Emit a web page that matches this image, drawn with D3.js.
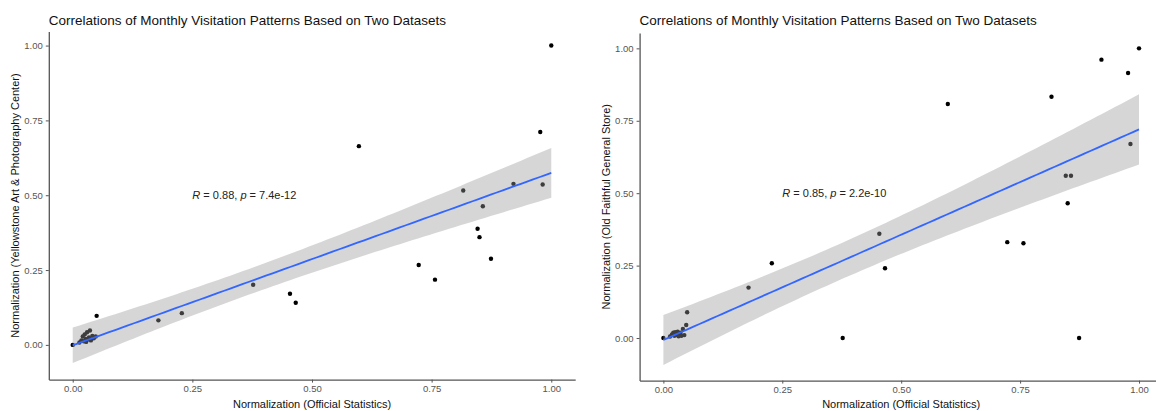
<!DOCTYPE html>
<html><head><meta charset="utf-8">
<script src="https://cdn.jsdelivr.net/npm/d3@7"></script>
<style>
body{margin:0;background:#fff}
svg{display:block}
text{font-family:Arial,"Liberation Sans",sans-serif}
</style>
</head><body>
<svg id="c" width="1156" height="411"></svg>
<script>
// ---------------- data ----------------
const officialX = [0, 0.014,0.018,0.021,0.023,0.025,0.027,0.028,0.030,0.032,0.034,0.036,0.038,0.041,0.044,0.048,0.050,
  0.179,0.228,0.377,0.454,0.466,0.598,0.723,0.757,0.816,0.846,0.850,0.857,0.874,0.921,0.977,0.982,1.0];
const yellowstoneArtY = [0, 0.008,0.015,0.028,0.012,0.035,0.020,0.010,0.042,0.018,0.025,0.048,0.015,0.030,0.022,0.028,0.097,
  0.082,0.106,0.201,0.171,0.141,0.664,0.267,0.218,0.516,0.388,0.360,0.463,0.288,0.538,0.711,0.536,1.0];
const oldFaithfulY = [0, 0.005,0.012,0.018,0.008,0.020,0.010,0.015,0.022,0.006,0.012,0.018,0.008,0.031,0.010,0.045,0.089,
  0.174,0.258,0.0,0.360,0.241,0.808,0.331,0.327,0.833,0.560,0.465,0.560,0.0,0.961,0.915,0.670,1.0];
const xTicks = [0, 0.25, 0.5, 0.75, 1];
const yTicks = [0, 0.25, 0.5, 0.75, 1];
const chartTitle = "Correlations of Monthly Visitation Patterns Based on Two Datasets";
const xTitle = "Normalization (Official Statistics)";
const yTitles = ["Normalization (Yellowstone Art & Photography Center)", "Normalization (Old Faithful General Store)"];
const statR = ["0.88", "0.85"];
const statP = ["7.4e-12", "2.2e-10"];
const statLabelPos = [0.25, 0.5];
const xDomain = [-0.05, 1.05];
const yDomains = [[-0.116, 1.047], [-0.147, 1.053]];
const T975 = 2.0369; // t quantile, df = 32

// ---------------- layout ----------------
const panels = [
  {ys: yellowstoneArtY, x0: 48.8, x1: 575.2, yb: 379.6, yt: 31.5, title: yTitles[0], titleX: 15, r: statR[0], p: statP[0]},
  {ys: oldFaithfulY,   x0: 639.6, x1: 1162.8, yb: 380.6, yt: 33,  title: yTitles[1], titleX: 606, r: statR[1], p: statP[1]}
];
const svg = d3.select("#c");

function fit(xs, ys){
  const n = xs.length, mx = d3.mean(xs), my = d3.mean(ys);
  let sxx = 0, sxy = 0;
  for (let i=0;i<n;i++){ sxx += (xs[i]-mx)**2; sxy += (xs[i]-mx)*(ys[i]-my); }
  const b = sxy/sxx, a = my - b*mx;
  let sse = 0;
  for (let i=0;i<n;i++){ sse += (ys[i]-a-b*xs[i])**2; }
  const s = Math.sqrt(sse/(n-2));
  const [lo, hi] = d3.extent(xs);
  return d3.range(80).map(k => {
    const x = lo + (hi-lo)*k/79;
    const yhat = a + b*x;
    const se = s*Math.sqrt(1/n + (x-mx)**2/sxx);
    return {x, y: yhat, lo: yhat - T975*se, hi: yhat + T975*se};
  });
}

panels.forEach((P, idx) => {
  const x = d3.scaleLinear().domain(xDomain).range([P.x0, P.x1]);
  const y = d3.scaleLinear().domain(yDomains[idx]).range([P.yb, P.yt]);
  const g = svg.append("g");

  // points
  g.selectAll("circle").data(officialX.map((v,i)=>[v, P.ys[i]])).enter().append("circle")
    .attr("cx", d=>x(d[0])).attr("cy", d=>y(d[1])).attr("r", 2.2).attr("fill", "#000");

  // smooth
  const f = fit(officialX, P.ys);
  g.append("path").datum(f)
    .attr("d", d3.area().x(d=>x(d.x)).y0(d=>y(d.lo)).y1(d=>y(d.hi)))
    .attr("fill", "#999999").attr("fill-opacity", 0.4);
  g.append("path").datum(f)
    .attr("d", d3.line().x(d=>x(d.x)).y(d=>y(d.y)))
    .attr("fill", "none").attr("stroke", "#3366FF").attr("stroke-width", 1.8);

  // axes
  const ax = g.append("g").attr("transform", `translate(0,${P.yb})`)
    .call(d3.axisBottom(x).tickValues(xTicks).tickFormat(d3.format(".2f")).tickSize(3).tickSizeOuter(0).tickPadding(3));
  const ay = g.append("g").attr("transform", `translate(${P.x0},0)`)
    .call(d3.axisLeft(y).tickValues(yTicks).tickFormat(d3.format(".2f")).tickSize(3).tickSizeOuter(0).tickPadding(3));
  [ax, ay].forEach(a => {
    a.select(".domain").attr("stroke", "#555").attr("stroke-width", 1.3);
    a.selectAll(".tick line").attr("stroke", "#555").attr("stroke-width", 1);
    a.selectAll(".tick text").attr("fill", "#555").style("font-size", "9.5px").style("font-family", "Arial, 'Liberation Sans', sans-serif");
  });

  // titles
  g.append("text").attr("x", P.x0).attr("y", 25).attr("fill", "#111")
    .style("font-size", "13.5px").text(chartTitle);
  g.append("text").attr("x", (P.x0+P.x1)/2).attr("y", 408).attr("text-anchor", "middle")
    .attr("fill", "#111").style("font-size", "11px").text(xTitle);
  g.append("text").attr("transform", `translate(${P.titleX+4},${(P.yb+P.yt)/2}) rotate(-90)`)
    .attr("text-anchor", "middle").attr("fill", "#111").style("font-size", "11px").text(P.title);

  // stat label
  const t = g.append("text").attr("x", x(statLabelPos[0])).attr("y", y(statLabelPos[1]))
    .attr("dy", "0.35em").attr("fill", "#222").style("font-size", "11px");
  t.append("tspan").style("font-style", "italic").text("R");
  t.append("tspan").text(` = ${P.r}, `);
  t.append("tspan").style("font-style", "italic").text("p");
  t.append("tspan").text(` = ${P.p}`);
});
</script>
</body></html>
